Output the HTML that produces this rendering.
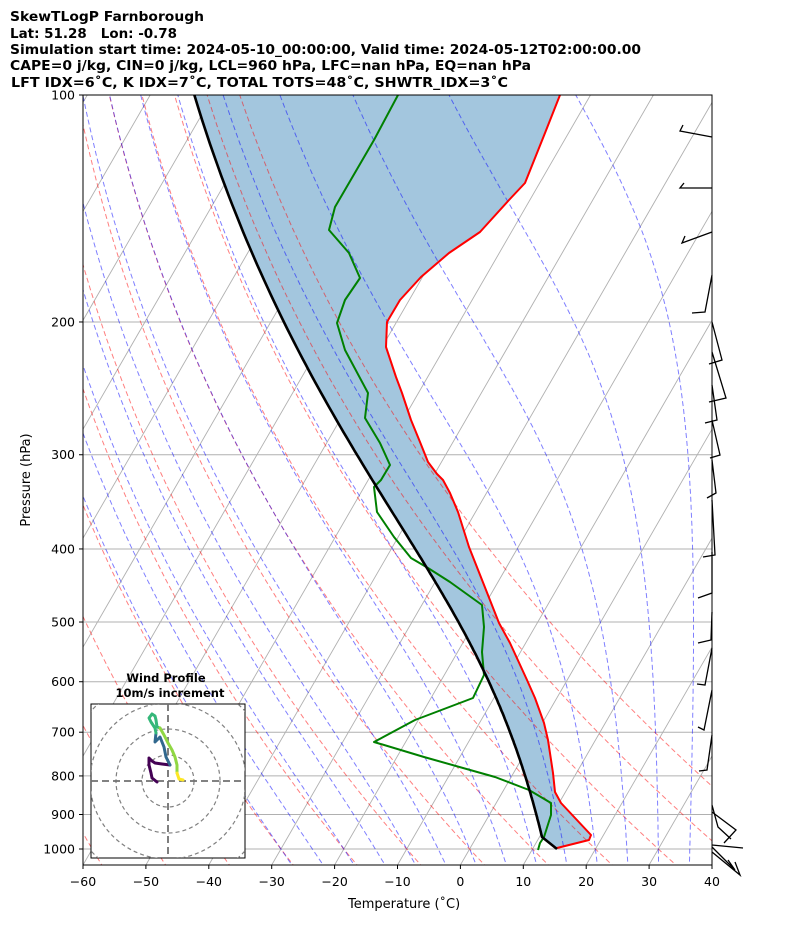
<!DOCTYPE html>
<html><head><meta charset="utf-8"><style>
body{margin:0;background:#fff;}
svg{display:block;font-family:"DejaVu Sans","Liberation Sans",sans-serif;}
</style></head><body>
<svg id="s" width="794" height="937" viewBox="0 0 794 937" xmlns="http://www.w3.org/2000/svg">
<defs><clipPath id="pc"><rect x="83" y="95" width="629" height="770"/></clipPath>
<clipPath id="hc"><rect x="91" y="704" width="154" height="154"/></clipPath></defs>
<g font-weight="bold" font-size="13" fill="#000">
<text x="10" y="21" textLength="194" lengthAdjust="spacingAndGlyphs">SkewTLogP Farnborough</text>
<text x="10" y="38" textLength="167" lengthAdjust="spacingAndGlyphs">Lat: 51.28&#160;&#160;&#160;Lon: -0.78</text>
<text x="10" y="54" textLength="631" lengthAdjust="spacingAndGlyphs">Simulation start time: 2024-05-10_00:00:00, Valid time: 2024-05-12T02:00:00.00</text>
<text x="10" y="70" textLength="521" lengthAdjust="spacingAndGlyphs">CAPE=0 j/kg, CIN=0 j/kg, LCL=960 hPa, LFC=nan hPa, EQ=nan hPa</text>
<text x="11" y="87" textLength="497" lengthAdjust="spacingAndGlyphs">LFT IDX=6˚C, K IDX=7˚C, TOTAL TOTS=48˚C, SHWTR_IDX=3˚C</text>
</g>
<g id="plot" clip-path="url(#pc)"></g>
<g id="hod"></g>
<g id="barbs" stroke="#000" stroke-width="1.3" fill="none"></g>
<rect x="83" y="95" width="629" height="770" fill="none" stroke="#000" stroke-width="1"/>
<g id="ticks" font-size="12.5" fill="#000"></g>
<text x="348" y="908" font-size="13">Temperature (˚C)</text>
<text transform="translate(30,480) rotate(-90)" text-anchor="middle" font-size="13">Pressure (hPa)</text>
<text x="166" y="682" font-size="11.5" font-weight="bold" text-anchor="middle">Wind Profile</text>
<text x="170" y="697" font-size="11.5" font-weight="bold" text-anchor="middle">10m/s increment</text>
</svg>
<script>
const NS="http://www.w3.org/2000/svg";
const X0=83,X1=712,YB=865,YT=95;
const py=p=>95+754*Math.log10(p/100);
const pOf=y=>100*Math.pow(10,(y-95)/754);
const px=(T,y)=>X0+(T+60)*6.29+0.57735*(YB-y);
const Tof=(x,y)=>(x-X0-0.57735*(YB-y))/6.29-60;
function el(par,tag,at){const e=document.createElementNS(NS,tag);for(const k in at)e.setAttribute(k,at[k]);par.appendChild(e);return e;}
const plot=document.getElementById('plot');
function pts(a){return a.map(q=>q[0].toFixed(1)+','+q[1].toFixed(1)).join(' ');}
for(let p=100;p<=1000;p+=100){const y=py(p);el(plot,'line',{x1:X0,x2:X1,y1:y,y2:y,stroke:'#b0b0b0','stroke-width':1});}
for(let T=-160;T<=50;T+=10){const a=[[px(T,YB),YB],[px(T,YT),YT]];el(plot,'polyline',{points:pts(a),stroke:'#b0b0b0','stroke-width':0.9,fill:'none'});}
const red=[[560,95],[545,133],[525,183],[509,200],[480,232],[449,253],[421,277],[400,300],[387,322],[386,347],[396,377],[402,393],[411,420],[420,442],[428,462],[437,474],[443,480],[450,493],[458,512],[469,547],[486,590],[499,623],[510,643],[527,680],[535,698],[544,723],[548,740],[553,773],[555,792],[561,803],[591,835],[589,840],[557,848]];
const grn=[[398,95],[374,140],[335,207],[329,230],[349,253],[360,278],[345,300],[337,323],[345,350],[368,393],[365,418],[380,443],[390,465],[381,480],[374,487],[377,512],[394,537],[411,558],[428,568],[450,582],[482,605],[484,627],[482,652],[484,675],[473,698],[415,720],[374,742],[424,757],[495,777],[529,790],[551,803],[551,815],[544,837],[540,843],[538,850]];
function es(T){return 6.112*Math.exp(17.67*T/(T+243.5));}
function dTdp(p,Tk){const T=Tk-273.15;const rs=0.622*es(T)/(p-es(T));const Rd=287.04,Cp=1004.6,Lv=2.501e6;return (Rd*Tk+Lv*rs)/(Cp+Lv*Lv*rs*0.622/(Rd*Tk*Tk))/p;}
function moistFrom(p0,T0,pEnd){const a=[];let Tk=T0+273.15,p=p0;while(p>=pEnd){const y=py(p);a.push([px(Tk-273.15,y),y]);const h=-4;const k1=dTdp(p,Tk),k2=dTdp(p+h/2,Tk+h/2*k1),k3=dTdp(p+h/2,Tk+h/2*k2),k4=dTdp(p+h,Tk+h*k3);Tk+=h/6*(k1+2*k2+2*k3+k4);p+=h;}return a;}
const yL=837,pL=pOf(yL),TL=Tof(542,yL);
const parUp=moistFrom(pL,TL,94);
const par=parUp.slice().reverse().concat([[542,837],[557,849]]);
el(plot,'polygon',{points:pts(par.concat(red.slice().reverse())),fill:'#a3c6de',stroke:'none'});
function dry(th){const a=[];for(let p=1060;p>=95;p-=10){const T=(th+273.15)*Math.pow(p/1000,0.2857)-273.15;const y=py(p);a.push([px(T,y),y]);}return a;}
for(let th=-60;th<=50;th+=10)el(plot,'polyline',{points:pts(dry(th)),stroke:'#ff0000','stroke-opacity':0.5,'stroke-dasharray':'5,3','stroke-width':1,fill:'none'});
function moist(t0){let up=moistFrom(1000,t0,95);let dn=[],Tk=t0+273.15,p=1000;while(p<=1060){const h=5;Tk+=h*dTdp(p,Tk);p+=h;const y=py(p);dn.push([px(Tk-273.15,y),y]);}return dn.reverse().concat(up);}
for(let t=-30;t<=40;t+=5)el(plot,'polyline',{points:pts(moist(t)),stroke:'#0000ff','stroke-opacity':0.5,'stroke-dasharray':'5,3','stroke-width':1,fill:'none'});
el(plot,'polyline',{points:pts(red),stroke:'#ff0000','stroke-width':2,fill:'none','stroke-linejoin':'round'});
el(plot,'polyline',{points:pts(grn),stroke:'#008000','stroke-width':2,fill:'none','stroke-linejoin':'round'});
el(plot,'polyline',{points:pts(par),stroke:'#000','stroke-width':2.6,fill:'none','stroke-linejoin':'round'});
const tk=document.getElementById('ticks');
for(let p=100;p<=1000;p+=100){const y=py(p);el(tk,'line',{x1:79,x2:83,y1:y,y2:y,stroke:'#000'});const t=el(tk,'text',{x:75,y:y+4.5,'text-anchor':'end'});t.textContent=p;}
for(let T=-60;T<=40;T+=10){const x=X0+(T+60)*6.29;el(tk,'line',{x1:x,x2:x,y1:865,y2:869,stroke:'#000'});const t=el(tk,'text',{x:x,y:886,'text-anchor':'middle'});t.textContent=(T<0?'\u2212'+(-T):T);}
const hod=document.getElementById('hod');
el(hod,'rect',{x:91,y:704,width:154,height:154,fill:'#fff',stroke:'#000'});
const hg=el(hod,'g',{'clip-path':'url(#hc)'});
for(const r of [26,52,78,104])el(hg,'circle',{cx:168,cy:781,r:r,fill:'none',stroke:'#808080','stroke-dasharray':'4,3','stroke-width':1.2});
el(hg,'line',{x1:91,x2:245,y1:781,y2:781,stroke:'#707070','stroke-dasharray':'7,4','stroke-width':1.8});
el(hg,'line',{x1:168,x2:168,y1:704,y2:858,stroke:'#707070','stroke-dasharray':'7,4','stroke-width':1.8});
const segs=[['#440154',[[157,782],[152,778],[151,773],[149,765],[149,758],[152,761],[155,763],[162,764],[170,765]]],['#31688e',[[170,765],[166,757],[164,747],[160,737],[155,742],[156,733]]],['#35b779',[[156,733],[155,728],[151,722],[149,718],[152,714],[155,716],[156,720],[157,727],[160,728]]],['#90d743',[[160,728],[164,735],[168,743],[172,750],[175,757],[177,765],[177,773]]],['#fde725',[[177,773],[179,779],[183,780]]]];
for(const s of segs)el(hg,'polyline',{points:pts(s[1]),stroke:s[0],'stroke-width':3,fill:'none','stroke-linejoin':'round','stroke-linecap':'round'});
const bb=document.getElementById('barbs');
const bl=[[[712,137],[680,131],[683,125]],[[712,188],[680,188],[684,183]],[[712,232],[682,243],[685,236]],[[712,275],[705,312],[692,313]],
[[712,322],[722,360],[709,364]],[[712,352],[726,398],[709,402]],[[712,385],[717,420],[705,423]],[[712,420],[720,455],[710,458]],[[712,460],[716,493],[707,498]],
[[712,500],[715,555],[703,557]],[[712,552],[712,593],[698,598]],[[712,612],[711,640],[698,643]],[[712,648],[705,685],[697,684]],[[712,690],[704,730],[698,727]],
[[712,735],[707,770],[699,771]],[[712,805],[718,827],[731,839]],[[712,812],[736,830],[724,843]],[[712,845],[743,848]],[[712,847],[735,870],[728,860]],[[712,852],[740,875],[735,862]]];
for(const b of bl)el(bb,'polyline',{points:pts(b)});
</script>
</body></html>
